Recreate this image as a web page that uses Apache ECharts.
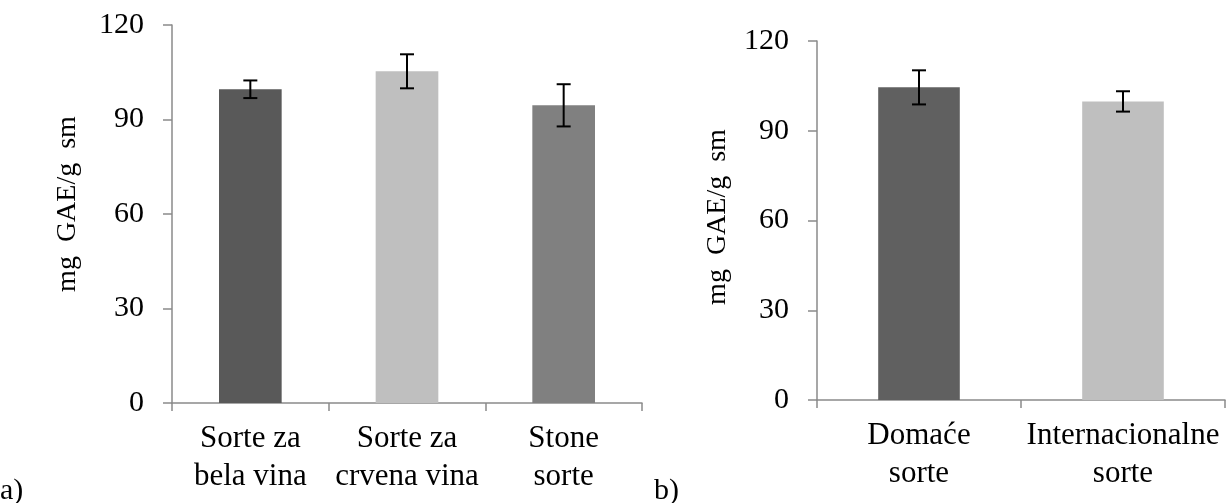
<!DOCTYPE html>
<html>
<head>
<meta charset="utf-8">
<script src="https://cdn.jsdelivr.net/npm/echarts@6/dist/echarts.min.js"></script>
<style>
html,body{margin:0;padding:0;background:#fff;}
#chart{width:1227px;height:503px;}
</style>
</head>
<body>
<div id="chart"></div>
<script>
const categoriesA = ['Sorte za\nbela vina', 'Sorte za\ncrvena vina', 'Stone\nsorte'];
const valuesA = [99.6, 105.3, 94.5];
const errorsA = [2.8, 5.4, 6.7];
const colorsA = ['#595959', '#bfbfbf', '#808080'];

const categoriesB = ['Domaće\nsorte', 'Internacionalne\nsorte'];
const valuesB = [104.5, 99.8];
const errorsB = [5.7, 3.4];
const colorsB = ['#606060', '#bfbfbf'];

const yMin = 0, yMax = 120, yStep = 30;
const yTitle = 'mg  GAE/g  sm';

const FONT = '"Liberation Serif", "Times New Roman", serif';
const AXIS_COLOR = '#8a8a8a';

function errorRender(params, api) {
  const i = api.value(0);
  const v = api.value(1);
  const e = api.value(2);
  const top = api.coord([i, v + e]);
  const bot = api.coord([i, v - e]);
  const hw = 7;
  const st = { stroke: '#000', lineWidth: 2 };
  return {
    type: 'group',
    children: [
      { type: 'line', shape: { x1: top[0], y1: top[1], x2: bot[0], y2: bot[1] }, style: st },
      { type: 'line', shape: { x1: top[0] - hw, y1: top[1], x2: top[0] + hw, y2: top[1] }, style: st },
      { type: 'line', shape: { x1: bot[0] - hw, y1: bot[1], x2: bot[0] + hw, y2: bot[1] }, style: st }
    ]
  };
}

function xAxisCfg(cats, idx) {
  return {
    type: 'category', gridIndex: idx, data: cats,
    axisLine: { lineStyle: { color: AXIS_COLOR, width: 1.5 } },
    axisTick: { show: true, length: 8, lineStyle: { color: AXIS_COLOR, width: 1.5 } },
    axisLabel: { interval: 0, margin: 17, color: '#000', fontFamily: FONT, fontSize: 31, lineHeight: 38 }
  };
}
function yAxisCfg(idx) {
  return {
    type: 'value', gridIndex: idx, min: yMin, max: yMax, interval: yStep,
    axisLine: { show: true, lineStyle: { color: AXIS_COLOR, width: 1.5 } },
    axisTick: { show: true, length: 9, lineStyle: { color: AXIS_COLOR, width: 1.5 } },
    splitLine: { show: false },
    axisLabel: { margin: 28, color: '#000', fontFamily: FONT, fontSize: 30 }
  };
}

const chart = echarts.init(document.getElementById('chart'), null, { renderer: 'canvas' });
chart.setOption({
  animation: false,
  backgroundColor: '#fff',
  grid: [
    { left: 172, right: 585, top: 25, bottom: 100 },
    { left: 817, right: 2, top: 41, bottom: 103 }
  ],
  xAxis: [xAxisCfg(categoriesA, 0), xAxisCfg(categoriesB, 1)],
  yAxis: [yAxisCfg(0), yAxisCfg(1)],
  graphic: [
    { type: 'text', x: 68, y: 204, rotation: Math.PI / 2, style: { text: yTitle, fill: '#000', font: '28px ' + FONT, align: 'center', verticalAlign: 'middle' } },
    { type: 'text', x: 718, y: 217, rotation: Math.PI / 2, style: { text: yTitle, fill: '#000', font: '28px ' + FONT, align: 'center', verticalAlign: 'middle' } },
    { type: 'text', left: 0, top: 476, style: { text: 'a)', fill: '#000', font: '30px ' + FONT } },
    { type: 'text', left: 654, top: 476, style: { text: 'b)', fill: '#000', font: '30px ' + FONT } }
  ],
  series: [
    {
      type: 'bar', xAxisIndex: 0, yAxisIndex: 0, barWidth: '40%',
      data: valuesA.map((v, i) => ({ value: v, itemStyle: { color: colorsA[i] } }))
    },
    {
      type: 'custom', xAxisIndex: 0, yAxisIndex: 0, renderItem: errorRender,
      encode: { x: 0, y: 1 }, z: 5,
      data: valuesA.map((v, i) => [i, v, errorsA[i]])
    },
    {
      type: 'bar', xAxisIndex: 1, yAxisIndex: 1, barWidth: '40%',
      data: valuesB.map((v, i) => ({ value: v, itemStyle: { color: colorsB[i] } }))
    },
    {
      type: 'custom', xAxisIndex: 1, yAxisIndex: 1, renderItem: errorRender,
      encode: { x: 0, y: 1 }, z: 5,
      data: valuesB.map((v, i) => [i, v, errorsB[i]])
    }
  ]
});
</script>
</body>
</html>
